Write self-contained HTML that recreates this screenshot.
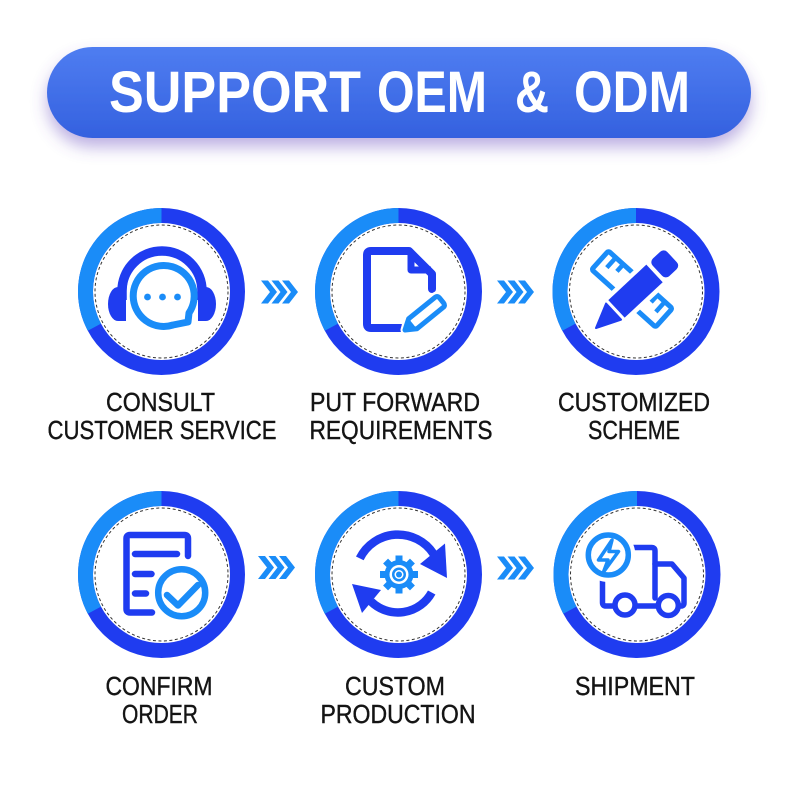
<!DOCTYPE html>
<html><head><meta charset="utf-8"><style>
html,body{margin:0;padding:0;background:#fff;width:800px;height:800px;overflow:hidden}
svg{display:block}
</style></head><body>
<svg width="800" height="800" viewBox="0 0 800 800" xmlns="http://www.w3.org/2000/svg">
<defs>
<linearGradient id="pg" x1="0" y1="0" x2="0" y2="1">
<stop offset="0" stop-color="#4f7df1"/><stop offset="1" stop-color="#3461df"/>
</linearGradient>
<filter id="sh" x="-10%" y="-40%" width="120%" height="190%">
<feDropShadow dx="0" dy="9" stdDeviation="8" flood-color="#6a4fc0" flood-opacity="0.45"/>
</filter>
<g id="ring">
<circle cx="0" cy="0" r="76" fill="none" stroke="#1f3cf0" stroke-width="15"/>
<path d="M0,-76 A76,76 0 0 0 -67.1,35.7" fill="none" stroke="#1a8cf8" stroke-width="15"/>
<circle cx="0" cy="0" r="66.5" fill="none" stroke="#333" stroke-width="1" stroke-dasharray="3 2.5"/>
</g>
<g id="chev" fill="#1a8cf8">
<polygon points="0,0 7,0 16,11.5 7,23 0,23 9,11.5"/>
<polygon points="10.5,0 17.5,0 26.5,11.5 17.5,23 10.5,23 19.5,11.5"/>
<polygon points="21,0 28,0 37,11.5 28,23 21,23 30,11.5"/>
</g>
</defs>

<!-- Title pill -->
<rect x="47" y="47" width="704" height="91" rx="45.5" fill="url(#pg)" filter="url(#sh)"/>
<g font-family="Liberation Sans, sans-serif" font-weight="bold" font-size="58" fill="#fff">
<text x="109" y="112" textLength="252" lengthAdjust="spacingAndGlyphs">SUPPORT</text>
<text x="377" y="112" textLength="110" lengthAdjust="spacingAndGlyphs">OEM</text>
<text x="515" y="112" textLength="34" lengthAdjust="spacingAndGlyphs">&amp;</text>
<text x="574" y="112" textLength="116" lengthAdjust="spacingAndGlyphs">ODM</text>
</g>

<!-- Rings -->
<use href="#ring" x="161.5" y="291.5"/>
<use href="#ring" x="398.5" y="291.5"/>
<use href="#ring" x="636" y="291.5"/>
<use href="#ring" x="161.5" y="574.5"/>
<use href="#ring" x="398.5" y="574.5"/>
<use href="#ring" x="637" y="574.5"/>

<!-- Chevrons -->
<use href="#chev" x="261" y="280.5"/>
<use href="#chev" x="497" y="280.5"/>
<use href="#chev" x="258" y="556"/>
<use href="#chev" x="497" y="556.5"/>

<!-- Icon 1: headset -->
<path d="M122,300 L122,291 A40,40 0 0 1 202,291 L202,300" fill="none" stroke="#1f3cf0" stroke-width="9.5"/>
<path d="M126,287 L126,321 L118,321 A10,17 0 0 1 118,287 Z" fill="#1f3cf0"/>
<path d="M198,287 L198,321 L206,321 A10,17 0 0 0 206,287 Z" fill="#1f3cf0"/>
<path d="M189,313 A30.5,30.5 0 1 0 173,325 L188,322 Z" fill="#fff" stroke="#1a8cf8" stroke-width="7" stroke-linejoin="round"/>
<circle cx="147.5" cy="297" r="3.4" fill="#1a8cf8"/>
<circle cx="162.5" cy="297" r="3.4" fill="#1a8cf8"/>
<circle cx="177.5" cy="297" r="3.4" fill="#1a8cf8"/>

<!-- Icon 2: document + pencil -->
<path d="M401,328 L371,328 Q367,328 367,324 L367,255 Q367,251 371,251 L409,251 L432,274 L432,289" fill="none" stroke="#1f3cf0" stroke-width="8" stroke-linecap="round" stroke-linejoin="round"/>
<path d="M411,252 L411,270 L431,270" fill="none" stroke="#1f3cf0" stroke-width="7" stroke-linejoin="round"/>
<g transform="translate(405,330) rotate(-39)">
<path d="M0,0 L10,-7 L44,-7 Q48,-7 48,-3 L48,3 Q48,7 44,7 L10,7 Z" fill="#fff" stroke="#fff" stroke-width="9" stroke-linejoin="round"/>
<path d="M0,0 L10,-6.5 L44,-6.5 Q47,-6.5 47,-3 L47,3 Q47,6.5 44,6.5 L10,6.5 Z" fill="#fff" stroke="#1a8cf8" stroke-width="5" stroke-linejoin="round"/>
<path d="M0,0 L10,-6.5 L10,6.5 Z" fill="#1a8cf8"/>
</g>

<!-- Icon 3: ruler + pencil -->
<g transform="translate(632,289) rotate(42)">
<rect x="-43" y="-12.5" width="86" height="25" rx="2" fill="#fff" stroke="#1a8cf8" stroke-width="5"/>
<path d="M-33,-12 L-33,1 M-23,-12 L-23,-3 M23,-12 L23,-3 M33,-12 L33,1" stroke="#1a8cf8" stroke-width="4.5" fill="none"/>
</g>
<g transform="translate(596,328) rotate(-43)">
<path d="M0,0 L24,-12 L104,-12 L104,12 L24,12 Z" fill="#fff" stroke="#fff" stroke-width="9" stroke-linejoin="round"/>
<path d="M0,0 L24,-11 L24,11 Z" fill="#1f3cf0" stroke="#1f3cf0" stroke-width="2" stroke-linejoin="round"/>
<rect x="28" y="-12" width="52" height="24" fill="#1f3cf0"/>
<rect x="84" y="-12" width="20" height="24" rx="5" fill="#1f3cf0"/>
</g>

<!-- Icon 4: doc + check -->
<path d="M152,612.5 L130,612.5 Q126.5,612.5 126.5,609 L126.5,538.5 Q126.5,535 130,535 L184.5,535 Q188,535 188,538.5 L188,556" fill="none" stroke="#1f3cf0" stroke-width="6.5" stroke-linecap="round" stroke-linejoin="round"/>
<path d="M135,554 L177,554 M135,574 L151.5,574 M135,593.5 L146,593.5" stroke="#1f3cf0" stroke-width="6.5" stroke-linecap="round"/>
<circle cx="181.7" cy="592.7" r="24" fill="#fff" stroke="#fff" stroke-width="14"/>
<circle cx="181.7" cy="592.7" r="23.5" fill="#fff" stroke="#1a8cf8" stroke-width="6.5"/>
<path d="M167,595 L178,605.5 L198,585" fill="none" stroke="#1a8cf8" stroke-width="6.5" stroke-linecap="round" stroke-linejoin="round"/>

<!-- Icon 5: production -->
<path d="M359.8,558.4 A42.5,42.5 0 0 1 433.6,553.9" fill="none" stroke="#1f3cf0" stroke-width="8.5"/>
<polygon points="420,564 445,543.5 447,578" fill="#1f3cf0"/>
<path d="M431.7,592.5 A38.5,38.5 0 0 1 371,601.5" fill="none" stroke="#1f3cf0" stroke-width="8.5"/>
<polygon points="352,584 381,590 362,613" fill="#1f3cf0"/>
<g transform="translate(399,574.5)" fill="#1a8cf8">
<circle r="14.5"/>
<rect x="-3.5" y="-19" width="7" height="8"/>
<rect x="-3.5" y="-19" width="7" height="8" transform="rotate(45)"/>
<rect x="-3.5" y="-19" width="7" height="8" transform="rotate(90)"/>
<rect x="-3.5" y="-19" width="7" height="8" transform="rotate(135)"/>
<rect x="-3.5" y="-19" width="7" height="8" transform="rotate(180)"/>
<rect x="-3.5" y="-19" width="7" height="8" transform="rotate(225)"/>
<rect x="-3.5" y="-19" width="7" height="8" transform="rotate(270)"/>
<rect x="-3.5" y="-19" width="7" height="8" transform="rotate(315)"/>
<circle r="9.5" fill="#fff"/>
<circle r="7" fill="#1a8cf8"/>
<circle r="4.5" fill="#fff"/>
<circle r="3" fill="#1a8cf8"/>
</g>

<!-- Icon 6: truck -->
<g fill="none" stroke="#1f3cf0" stroke-width="5.5" stroke-linejoin="round" stroke-linecap="round">
<path d="M613,606 L606,606 Q602.5,606 602.5,602.5 L602.5,551 Q602.5,547.5 606,547.5 L651.5,547.5 Q655,547.5 655,551 L655,598"/>
<path d="M655,564 L672,564 L684,578 L684,603 Q684,606 681,606 L680,606"/>
<path d="M637,606 L656,606"/>
<circle cx="625" cy="605" r="10"/>
<circle cx="668.3" cy="605.5" r="10"/>
</g>
<circle cx="608.3" cy="555" r="21" fill="#fff" stroke="#fff" stroke-width="12"/>
<circle cx="608.3" cy="555" r="20" fill="#fff" stroke="#1a8cf8" stroke-width="5.5"/>
<path d="M612,540 L598.5,560 L608,560 L603.5,572 L618.5,551.5 L609,551.5 Z" fill="none" stroke="#1a8cf8" stroke-width="3.5" stroke-linejoin="round"/>

<!-- Labels -->
<g font-family="Liberation Sans, sans-serif" font-size="26" fill="#141414" stroke="#141414" stroke-width="0.4" text-anchor="middle">
<text x="160.5" y="411" textLength="109" lengthAdjust="spacingAndGlyphs">CONSULT</text>
<text x="162" y="439" textLength="229" lengthAdjust="spacingAndGlyphs">CUSTOMER SERVICE</text>
<text x="395" y="411" textLength="170" lengthAdjust="spacingAndGlyphs">PUT FORWARD</text>
<text x="401" y="439" textLength="183" lengthAdjust="spacingAndGlyphs">REQUIREMENTS</text>
<text x="634" y="411" textLength="152" lengthAdjust="spacingAndGlyphs">CUSTOMIZED</text>
<text x="634" y="439" textLength="92" lengthAdjust="spacingAndGlyphs">SCHEME</text>
<text x="159" y="695" textLength="107" lengthAdjust="spacingAndGlyphs">CONFIRM</text>
<text x="160" y="723" textLength="76" lengthAdjust="spacingAndGlyphs">ORDER</text>
<text x="395" y="695" textLength="100" lengthAdjust="spacingAndGlyphs">CUSTOM</text>
<text x="398" y="723" textLength="155" lengthAdjust="spacingAndGlyphs">PRODUCTION</text>
<text x="635" y="695" textLength="120" lengthAdjust="spacingAndGlyphs">SHIPMENT</text>
</g>
</svg>
</body></html>
